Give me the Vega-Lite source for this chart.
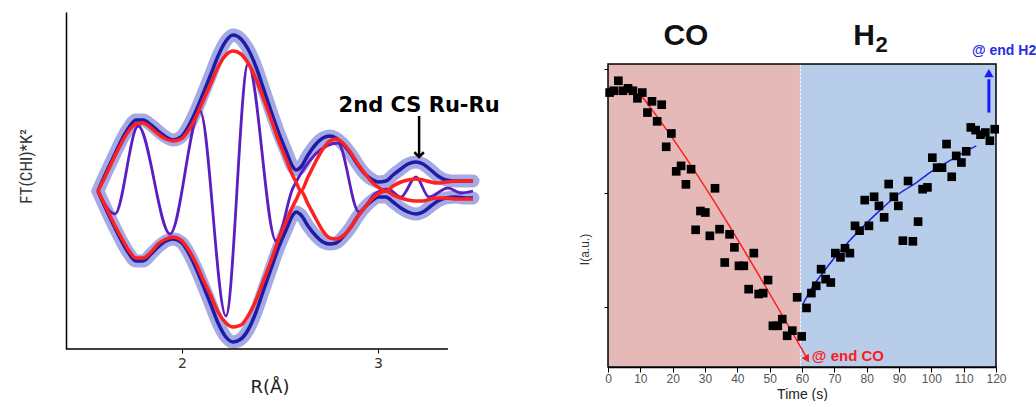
{
  "$schema": "https://vega.github.io/schema/vega-lite/v6.json",
  "background": "white",
  "padding": {"left": 17, "top": 12, "right": 0, "bottom": 0},
  "bounds": "flush",
  "spacing": 135,
  "config": {"view": {"stroke": null}, "font": "Liberation Sans"},
  "datasets": {
    "env": [
      {"R": 1.571, "bu": 0, "bl": 0, "ru": 0, "rl": 0},
      {"R": 1.612, "bu": 18, "bl": -18, "ru": 16, "rl": -16},
      {"R": 1.648, "bu": 33, "bl": -33, "ru": 31, "rl": -31},
      {"R": 1.689, "bu": 50, "bl": -49, "ru": 47, "rl": -46},
      {"R": 1.724, "bu": 62, "bl": -61, "ru": 59, "rl": -58},
      {"R": 1.765, "bu": 71, "bl": -70, "ru": 67, "rl": -67},
      {"R": 1.801, "bu": 71, "bl": -70, "ru": 68, "rl": -67},
      {"R": 1.842, "bu": 66, "bl": -63, "ru": 63, "rl": -61},
      {"R": 1.878, "bu": 60, "bl": -56, "ru": 57, "rl": -53},
      {"R": 1.918, "bu": 54, "bl": -50, "ru": 52, "rl": -48},
      {"R": 1.954, "bu": 51, "bl": -48, "ru": 50, "rl": -46},
      {"R": 1.995, "bu": 54, "bl": -51, "ru": 52, "rl": -49},
      {"R": 2.031, "bu": 64, "bl": -61, "ru": 60, "rl": -58},
      {"R": 2.071, "bu": 80, "bl": -77, "ru": 74, "rl": -72},
      {"R": 2.107, "bu": 97, "bl": -94, "ru": 90, "rl": -88},
      {"R": 2.148, "bu": 117, "bl": -114, "ru": 108, "rl": -105},
      {"R": 2.184, "bu": 135, "bl": -132, "ru": 124, "rl": -121},
      {"R": 2.224, "bu": 150, "bl": -146, "ru": 136, "rl": -132},
      {"R": 2.26, "bu": 156, "bl": -151, "ru": 140, "rl": -136},
      {"R": 2.301, "bu": 152, "bl": -148, "ru": 137, "rl": -134},
      {"R": 2.337, "bu": 142, "bl": -139, "ru": 128, "rl": -125},
      {"R": 2.378, "bu": 124, "bl": -121, "ru": 112, "rl": -109},
      {"R": 2.413, "bu": 104, "bl": -101, "ru": 94, "rl": -91},
      {"R": 2.454, "bu": 80, "bl": -78, "ru": 72, "rl": -70},
      {"R": 2.49, "bu": 60, "bl": -58, "ru": 52, "rl": -50},
      {"R": 2.531, "bu": 40, "bl": -39, "ru": 32, "rl": -31},
      {"R": 2.566, "bu": 24, "bl": -24, "ru": 15, "rl": -15},
      {"R": 2.582, "bu": 21, "bl": -21, "ru": 9, "rl": -9},
      {"R": 2.607, "bu": 24, "bl": -24, "ru": 0, "rl": 0},
      {"R": 2.643, "bu": 36, "bl": -35, "ru": 14, "rl": -13},
      {"R": 2.684, "bu": 47, "bl": -45, "ru": 30, "rl": -28},
      {"R": 2.719, "bu": 53, "bl": -51, "ru": 42, "rl": -40},
      {"R": 2.755, "bu": 55, "bl": -53, "ru": 50, "rl": -47},
      {"R": 2.786, "bu": 53, "bl": -52, "ru": 52, "rl": -48},
      {"R": 2.821, "bu": 47, "bl": -46, "ru": 48, "rl": -45},
      {"R": 2.862, "bu": 37, "bl": -36, "ru": 38, "rl": -36},
      {"R": 2.898, "bu": 26, "bl": -25, "ru": 27, "rl": -25},
      {"R": 2.939, "bu": 16, "bl": -15, "ru": 16, "rl": -15},
      {"R": 2.974, "bu": 11, "bl": -9, "ru": 8, "rl": -7},
      {"R": 3.0, "bu": 9, "bl": -6, "ru": 4, "rl": -3},
      {"R": 3.041, "bu": 10, "bl": -6, "ru": 0, "rl": 0},
      {"R": 3.077, "bu": 16, "bl": -11, "ru": 5, "rl": -4},
      {"R": 3.117, "bu": 22, "bl": -17, "ru": 9, "rl": -7},
      {"R": 3.153, "bu": 27, "bl": -21, "ru": 11, "rl": -9},
      {"R": 3.194, "bu": 29, "bl": -23, "ru": 12, "rl": -10},
      {"R": 3.23, "bu": 27, "bl": -21, "ru": 11, "rl": -10},
      {"R": 3.27, "bu": 21, "bl": -15, "ru": 9, "rl": -8},
      {"R": 3.306, "bu": 15, "bl": -10, "ru": 8, "rl": -7},
      {"R": 3.347, "bu": 11, "bl": -7, "ru": 9, "rl": -7},
      {"R": 3.398, "bu": 10, "bl": -6, "ru": 10, "rl": -8},
      {"R": 3.444, "bu": 10, "bl": -7, "ru": 10, "rl": -8},
      {"R": 3.485, "bu": 10, "bl": -7, "ru": 10, "rl": -8}
    ],
    "imag": [
      {"R": 1.571, "im": 0},
      {"R": 1.658, "im": -23},
      {"R": 1.776, "im": 65},
      {"R": 1.939, "im": -43},
      {"R": 2.092, "im": 80},
      {"R": 2.224, "im": -125},
      {"R": 2.337, "im": 127},
      {"R": 2.48, "im": -50},
      {"R": 2.566, "im": 3},
      {"R": 2.796, "im": 48},
      {"R": 2.903, "im": -21},
      {"R": 2.985, "im": -3},
      {"R": 3.051, "im": 2},
      {"R": 3.117, "im": -6},
      {"R": 3.194, "im": 14},
      {"R": 3.26, "im": -6},
      {"R": 3.357, "im": 3},
      {"R": 3.423, "im": -2},
      {"R": 3.485, "im": 0}
    ],
    "ann": [{"R": 3.21, "y": 85, "y1": 75, "y2": 36, "tip": 34, "label": "2nd CS Ru-Ru"}],
    "base": [{"R": 1.408, "R2": 3.357, "y": -158}],
    "bg": [
      {"t": 0, "t2": 59.5, "gas": "CO"},
      {"t": 59.5, "t2": 120, "gas": "H2"}
    ],
    "frame": [{"t": 0, "t2": 120, "v": 0, "v2": 100}],
    "sw": [{"t": 59.5, "v": 0, "v2": 100}],
    "pts": [
      {"t": 0.5, "v": 90.6}, {"t": 1.8, "v": 91.2}, {"t": 3.2, "v": 94.5}, {"t": 4.6, "v": 91.2},
      {"t": 6.2, "v": 92.0}, {"t": 7.7, "v": 91.2}, {"t": 9.1, "v": 88.7}, {"t": 10.6, "v": 90.6},
      {"t": 12.2, "v": 84.0}, {"t": 13.6, "v": 87.7}, {"t": 15.2, "v": 81.1}, {"t": 16.6, "v": 86.6},
      {"t": 18.0, "v": 72.7}, {"t": 19.6, "v": 77.1}, {"t": 21.1, "v": 64.6}, {"t": 22.6, "v": 66.4},
      {"t": 24.1, "v": 60.3}, {"t": 25.7, "v": 65.3}, {"t": 27.1, "v": 45.3}, {"t": 28.6, "v": 51.5},
      {"t": 30.1, "v": 51.0}, {"t": 31.5, "v": 43.3}, {"t": 33.1, "v": 59.0}, {"t": 34.5, "v": 45.5},
      {"t": 36.1, "v": 34.5}, {"t": 37.6, "v": 43.8}, {"t": 39.1, "v": 39.5}, {"t": 40.5, "v": 33.4},
      {"t": 42.0, "v": 33.4}, {"t": 43.5, "v": 25.7}, {"t": 45.1, "v": 37.6}, {"t": 46.6, "v": 24.1},
      {"t": 48.0, "v": 24.4}, {"t": 49.5, "v": 28.7}, {"t": 51.0, "v": 13.6}, {"t": 52.5, "v": 13.6},
      {"t": 53.9, "v": 15.8}, {"t": 55.4, "v": 10.3}, {"t": 57.0, "v": 12.0}, {"t": 58.5, "v": 23.0},
      {"t": 59.9, "v": 10.1}, {"t": 61.4, "v": 19.5}, {"t": 62.9, "v": 24.4}, {"t": 64.4, "v": 26.8},
      {"t": 65.9, "v": 32.3}, {"t": 67.3, "v": 29.0}, {"t": 68.9, "v": 27.9}, {"t": 70.3, "v": 37.6},
      {"t": 71.9, "v": 36.2}, {"t": 73.3, "v": 39.2}, {"t": 74.8, "v": 37.6}, {"t": 76.4, "v": 46.6},
      {"t": 77.8, "v": 45.0}, {"t": 79.4, "v": 55.1}, {"t": 80.7, "v": 46.6}, {"t": 82.3, "v": 56.2},
      {"t": 83.8, "v": 53.2}, {"t": 85.4, "v": 49.4}, {"t": 86.8, "v": 60.4}, {"t": 88.4, "v": 56.2},
      {"t": 89.8, "v": 53.2}, {"t": 91.2, "v": 41.7}, {"t": 92.8, "v": 61.4}, {"t": 94.3, "v": 41.5},
      {"t": 95.9, "v": 48.0}, {"t": 97.3, "v": 58.7}, {"t": 98.8, "v": 59.3}, {"t": 100.3, "v": 69.1},
      {"t": 101.8, "v": 65.8}, {"t": 103.3, "v": 65.8}, {"t": 104.7, "v": 73.6}, {"t": 106.3, "v": 62.8},
      {"t": 107.7, "v": 69.7}, {"t": 109.3, "v": 67.5}, {"t": 110.8, "v": 71.2}, {"t": 112.2, "v": 79.1},
      {"t": 113.7, "v": 78.2}, {"t": 115.2, "v": 76.7}, {"t": 116.7, "v": 77.4}, {"t": 118.1, "v": 74.7},
      {"t": 119.6, "v": 78.5}
    ],
    "fitCO": [
      {"t": 0, "v": 90.8}, {"t": 5, "v": 90.9}, {"t": 9, "v": 90.2}, {"t": 11, "v": 88.6},
      {"t": 13, "v": 85.8}, {"t": 61.4, "v": 3.2}
    ],
    "fitH2": [
      {"t": 60.3, "v": 20.8}, {"t": 63, "v": 26}, {"t": 66.5, "v": 31.2}, {"t": 70, "v": 36},
      {"t": 74.7, "v": 41.7}, {"t": 80, "v": 47.5}, {"t": 85.1, "v": 52.7}, {"t": 90, "v": 57.2},
      {"t": 95.4, "v": 60.9}, {"t": 100, "v": 64.5}, {"t": 105.7, "v": 68.1}, {"t": 110, "v": 70.8},
      {"t": 113.9, "v": 73.0}
    ],
    "arrCO": [{"t": 61.6, "v": 2.6}],
    "arrH2": [{"t": 117.8, "v": 84, "v2": 95}],
    "arrH2head": [{"t": 117.8, "v": 97}],
    "txtCO": [{"t": 74.2, "v": 3.6, "label": "@ end CO"}],
    "txtH2": [{"t": 122.5, "v": 104.3, "label": "@ end H2"}],
    "heads": [
      {"t": 24.1, "v": 109.2, "label": "CO"},
      {"t": 79.2, "v": 109.2, "label": "H"}
    ],
    "sub": [{"t": 84.6, "v": 106.4, "label": "2"}]
  },
  "hconcat": [
    {
      "width": 407,
      "height": 337,
      "encoding": {
        "x": {"field": "R", "type": "quantitative", "scale": {"domain": [1.408, 3.485], "nice": false, "zero": false},
          "axis": {"title": "R(Å)", "values": [2, 3], "format": "d", "domain": false, "ticks": true, "tickSize": 4, "tickColor": "black",
            "labelFont": "DejaVu Sans", "labelFontSize": 14, "labelColor": "#333", "labelPadding": 3, "labelFlush": false,
            "titleFont": "DejaVu Sans", "titleFontSize": 18, "titleFontWeight": "normal", "titleColor": "#222", "titlePadding": 8, "grid": false}}
      },
      "layer": [
        {
          "data": {"name": "env"},
          "mark": {"type": "line", "color": "#a5a9e4", "strokeWidth": 13, "strokeCap": "round", "strokeJoin": "round", "interpolate": "monotone"},
          "encoding": {
            "y": {"field": "bu", "type": "quantitative", "scale": {"domain": [-158, 179], "nice": false, "zero": false},
              "axis": {"title": "FT(CHI)*K²", "domain": true, "domainColor": "black", "domainWidth": 1.5, "ticks": false, "labels": false, "grid": false,
                "titleFont": "Liberation Sans Narrow, Roboto Condensed, Liberation Sans", "titleFontSize": 17, "titleFontWeight": "normal", "titleColor": "#333", "titlePadding": 31, "titleY": 154}}
          }
        },
        {
          "data": {"name": "env"},
          "mark": {"type": "line", "color": "#a5a9e4", "strokeWidth": 13, "strokeCap": "round", "strokeJoin": "round", "interpolate": "monotone"},
          "encoding": {"y": {"field": "bl", "type": "quantitative"}}
        },
        {
          "data": {"name": "imag"},
          "mark": {"type": "line", "color": "#5b1ec2", "strokeWidth": 2.8, "interpolate": "monotone"},
          "encoding": {"y": {"field": "im", "type": "quantitative"}}
        },
        {
          "data": {"name": "env"},
          "mark": {"type": "line", "color": "#1c1ca6", "strokeWidth": 3.5, "interpolate": "monotone"},
          "encoding": {"y": {"field": "bu", "type": "quantitative"}}
        },
        {
          "data": {"name": "env"},
          "mark": {"type": "line", "color": "#1c1ca6", "strokeWidth": 3.5, "interpolate": "monotone"},
          "encoding": {"y": {"field": "bl", "type": "quantitative"}}
        },
        {
          "data": {"name": "env"},
          "mark": {"type": "line", "color": "#ff2020", "strokeWidth": 3.5, "interpolate": "monotone"},
          "encoding": {"y": {"field": "ru", "type": "quantitative"}}
        },
        {
          "data": {"name": "env"},
          "mark": {"type": "line", "color": "#ff2020", "strokeWidth": 3.5, "interpolate": "monotone"},
          "encoding": {"y": {"field": "rl", "type": "quantitative"}}
        },
        {
          "data": {"name": "base"},
          "mark": {"type": "rule", "color": "black", "strokeWidth": 1.5},
          "encoding": {"x2": {"field": "R2"}, "y": {"field": "y", "type": "quantitative"}}
        },
        {
          "data": {"name": "ann"},
          "mark": {"type": "text", "font": "DejaVu Sans", "fontWeight": "bold", "fontSize": 21, "color": "black", "align": "center", "baseline": "middle"},
          "encoding": {"y": {"field": "y", "type": "quantitative"}, "text": {"field": "label"}}
        },
        {
          "data": {"name": "ann"},
          "mark": {"type": "rule", "color": "black", "strokeWidth": 2.5},
          "encoding": {"y": {"field": "y1", "type": "quantitative"}, "y2": {"field": "y2"}}
        },
        {
          "data": {"name": "ann"},
          "mark": {"type": "point", "shape": "M -1 -1 L 0 0 L 1 -1", "filled": false, "stroke": "black", "strokeWidth": 2.5, "size": 90, "opacity": 1},
          "encoding": {"y": {"field": "tip", "type": "quantitative"}}
        }
      ]
    },
    {
      "width": 388,
      "height": 355,
      "encoding": {
        "x": {"field": "t", "type": "quantitative", "scale": {"domain": [0, 120], "nice": false, "zero": false},
          "axis": {"title": "Time (s)", "values": [0, 10, 20, 30, 40, 50, 60, 70, 80, 90, 100, 110, 120], "domain": true, "domainColor": "black", "domainWidth": 1.5,
            "ticks": true, "tickSize": 5, "tickColor": "black", "labelColor": "#555", "labelFontSize": 12, "labelFont": "Liberation Sans", "labelPadding": 1,
            "labelOverlap": false, "labelFlush": false,
            "titleFont": "Liberation Sans", "titleFontSize": 14, "titleFontWeight": "normal", "titleColor": "#222", "titlePadding": 3, "grid": false}}
      },
      "layer": [
        {
          "data": {"name": "bg"},
          "mark": {"type": "rect"},
          "encoding": {
            "x2": {"field": "t2"},
            "y": {"datum": 0, "type": "quantitative", "scale": {"domain": [0, 117.2], "nice": false, "zero": false},
              "axis": {"title": "I(a.u.)", "values": [19.8, 57.4, 98.3], "domain": false, "ticks": true, "tickSize": 4, "tickColor": "black", "labels": false, "grid": false,
                "titleFont": "Liberation Sans", "titleFontSize": 12, "titleFontWeight": "normal", "titleColor": "#333", "titlePadding": 12, "titleY": 237}},
            "y2": {"datum": 100},
            "color": {"field": "gas", "type": "nominal", "scale": {"domain": ["CO", "H2"], "range": ["#e6b9b9", "#b7cdea"]}, "legend": null}
          }
        },
        {
          "data": {"name": "sw"},
          "mark": {"type": "rule", "color": "white", "strokeWidth": 1, "strokeDash": [2, 2]},
          "encoding": {"y": {"field": "v", "type": "quantitative"}, "y2": {"field": "v2"}}
        },
        {
          "data": {"name": "frame"},
          "mark": {"type": "rect", "filled": false, "stroke": "black", "strokeWidth": 1.5},
          "encoding": {"x2": {"field": "t2"}, "y": {"field": "v", "type": "quantitative"}, "y2": {"field": "v2"}}
        },
        {
          "data": {"name": "fitCO"},
          "mark": {"type": "line", "color": "#ff1a1a", "strokeWidth": 1.5, "interpolate": "monotone"},
          "encoding": {"y": {"field": "v", "type": "quantitative"}}
        },
        {
          "data": {"name": "arrCO"},
          "mark": {"type": "point", "shape": "triangle-up", "filled": true, "color": "#ff1a1a", "size": 70, "angle": 148, "opacity": 1},
          "encoding": {"y": {"field": "v", "type": "quantitative"}}
        },
        {
          "data": {"name": "fitH2"},
          "mark": {"type": "line", "color": "#2020e0", "strokeWidth": 1.5, "interpolate": "monotone"},
          "encoding": {"y": {"field": "v", "type": "quantitative"}}
        },
        {
          "data": {"name": "pts"},
          "mark": {"type": "point", "shape": "square", "filled": true, "color": "black", "size": 75, "opacity": 1},
          "encoding": {"y": {"field": "v", "type": "quantitative"}}
        },
        {
          "data": {"name": "arrH2"},
          "mark": {"type": "rule", "color": "#1a1aff", "strokeWidth": 3},
          "encoding": {"y": {"field": "v", "type": "quantitative"}, "y2": {"field": "v2"}}
        },
        {
          "data": {"name": "arrH2head"},
          "mark": {"type": "point", "shape": "triangle-up", "filled": true, "color": "#1a1aff", "size": 90, "opacity": 1},
          "encoding": {"y": {"field": "v", "type": "quantitative"}}
        },
        {
          "data": {"name": "txtCO"},
          "mark": {"type": "text", "font": "Liberation Sans", "fontWeight": "bold", "fontSize": 15, "color": "#ff1a1a", "align": "center", "baseline": "middle"},
          "encoding": {"y": {"field": "v", "type": "quantitative"}, "text": {"field": "label"}}
        },
        {
          "data": {"name": "txtH2"},
          "mark": {"type": "text", "font": "Liberation Sans", "fontWeight": "bold", "fontSize": 14, "color": "#2a2ae6", "align": "center", "baseline": "middle"},
          "encoding": {"y": {"field": "v", "type": "quantitative"}, "text": {"field": "label"}}
        },
        {
          "data": {"name": "heads"},
          "mark": {"type": "text", "font": "Liberation Sans", "fontWeight": "bold", "fontSize": 30, "color": "#111", "align": "center", "baseline": "middle"},
          "encoding": {"y": {"field": "v", "type": "quantitative"}, "text": {"field": "label"}}
        },
        {
          "data": {"name": "sub"},
          "mark": {"type": "text", "font": "Liberation Sans", "fontWeight": "bold", "fontSize": 22, "color": "#111", "align": "center", "baseline": "middle"},
          "encoding": {"y": {"field": "v", "type": "quantitative"}, "text": {"field": "label"}}
        }
      ]
    }
  ]
}
